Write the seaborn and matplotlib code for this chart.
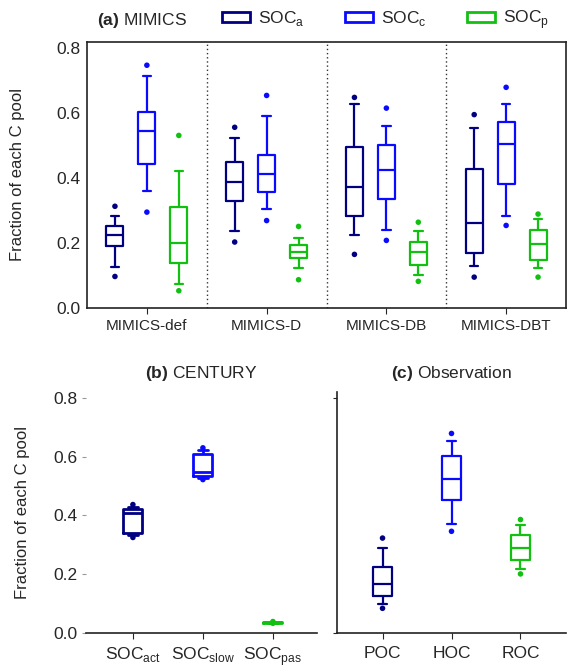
import matplotlib
matplotlib.use("Agg")
import pandas as pd
import matplotlib.pyplot as plt
from matplotlib.patches import Patch
import seaborn as sns

# each box: lower whisker, q1, median, q3, upper whisker (whis=(0, 100) on 5 values
# gives back exactly these), dots are the low / high outlier points
mimics_runs = ["MIMICS-def", "MIMICS-D", "MIMICS-DB", "MIMICS-DBT"]
mimics_pools = ["SOCa", "SOCc", "SOCp"]

soc_a_boxes = [[0.125, 0.192, 0.224, 0.253, 0.282],
               [0.238, 0.329, 0.388, 0.450, 0.523],
               [0.225, 0.282, 0.371, 0.496, 0.629],
               [0.130, 0.169, 0.261, 0.429, 0.553]]
soc_a_dots = [[0.097, 0.313], [0.203, 0.556], [0.165, 0.648], [0.095, 0.595]]

soc_c_boxes = [[0.359, 0.444, 0.545, 0.604, 0.713],
               [0.304, 0.357, 0.412, 0.471, 0.590],
               [0.241, 0.336, 0.425, 0.502, 0.560],
               [0.284, 0.382, 0.504, 0.573, 0.629]]
soc_c_dots = [[0.295, 0.747], [0.269, 0.654], [0.208, 0.615], [0.254, 0.679]]

soc_p_boxes = [[0.075, 0.137, 0.199, 0.311, 0.423],
               [0.124, 0.153, 0.172, 0.193, 0.214],
               [0.103, 0.131, 0.171, 0.203, 0.238],
               [0.122, 0.149, 0.197, 0.239, 0.275]]
soc_p_dots = [[0.053, 0.531], [0.087, 0.251], [0.082, 0.264], [0.095, 0.289]]

century_pools = ["SOCact", "SOCslow", "SOCpas"]
century_labels = [r"SOC$_\mathregular{act}$", r"SOC$_\mathregular{slow}$", r"SOC$_\mathregular{pas}$"]
century_boxes = [[0.335, 0.341, 0.409, 0.422, 0.430],
                 [0.527, 0.533, 0.547, 0.610, 0.622],
                 [0.034, 0.035, 0.036, 0.037, 0.038]]
century_dots = [[0.325, 0.437], [0.522, 0.630], [0.033, 0.039]]

obs_fractions = ["POC", "HOC", "ROC"]
obs_boxes = [[0.100, 0.125, 0.167, 0.226, 0.289],
             [0.371, 0.454, 0.523, 0.602, 0.654],
             [0.217, 0.247, 0.288, 0.335, 0.368]]
obs_dots = [[0.084, 0.323], [0.346, 0.679], [0.201, 0.386]]

colors = ["#000080", "#0a0aff", "#12c012"]
legend_labels = [r"SOC$_\mathregular{a}$", r"SOC$_\mathregular{c}$", r"SOC$_\mathregular{p}$"]


def long_table(groups, boxes, col):
    rows = []
    for g, vals in zip(groups, boxes):
        for v in vals:
            rows.append({col: g, "value": v})
    return pd.DataFrame(rows)


sns.set_style("ticks")
plt.rcParams["font.family"] = ["Liberation Sans", "DejaVu Sans"]
plt.rcParams["mathtext.fontset"] = "custom"
plt.rcParams["mathtext.rm"] = "Liberation Sans"
plt.rcParams["mathtext.bf"] = "Liberation Sans:bold"
plt.rcParams["axes.edgecolor"] = "#222222"
plt.rcParams["axes.linewidth"] = 1.2

W, H = 567, 671
fig = plt.figure(figsize=(W / 100, H / 100), dpi=100)
ax_a = fig.add_axes([87 / W, 1 - 308 / H, 479 / W, 266.5 / H])
ax_b = fig.add_axes([86 / W, 1 - 633 / H, 231 / W, 241 / H])
ax_c = fig.add_axes([337 / W, 1 - 633 / H, 229 / W, 241 / H])

# ---- (a) MIMICS
box_a = []
dot_a = []
for pool, bx, dt in zip(mimics_pools, [soc_a_boxes, soc_c_boxes, soc_p_boxes],
                        [soc_a_dots, soc_c_dots, soc_p_dots]):
    t = long_table(mimics_runs, bx, "run")
    t["pool"] = pool
    box_a.append(t)
    t = long_table(mimics_runs, dt, "run")
    t["pool"] = pool
    dot_a.append(t)
box_a = pd.concat(box_a, ignore_index=True)
dot_a = pd.concat(dot_a, ignore_index=True)

sns.boxplot(data=box_a, x="run", y="value", hue="pool", order=mimics_runs,
            hue_order=mimics_pools, palette=colors, whis=(0, 100), fill=False,
            width=0.8, gap=0.47, linewidth=1.6, showfliers=False, legend=False, ax=ax_a)
sns.stripplot(data=dot_a, x="run", y="value", hue="pool", order=mimics_runs,
              hue_order=mimics_pools, palette=colors, dodge=True, jitter=False,
              size=4, linewidth=0, legend=False, ax=ax_a)
for xs in [0.5, 1.5, 2.5]:
    ax_a.axvline(xs, color="#333333", lw=1, linestyle=(0, (1, 2)))
ax_a.set_xlim(-0.5, 3.5)
ax_a.set_ylim(0, 0.82)
ax_a.set_yticks([0, 0.2, 0.4, 0.6, 0.8])
ax_a.set_xlabel("")
ax_a.set_ylabel("Fraction of each C pool", fontsize=12, labelpad=22)
ax_a.tick_params(axis="y", length=0, labelsize=12.5, pad=5)
ax_a.tick_params(axis="x", length=4, labelsize=11, pad=4)

fig.text(97 / W, 1 - 20 / H, r"$\mathbf{(a)}$ MIMICS", ha="left", va="center", fontsize=12.5)
handles = [Patch(facecolor="white", edgecolor=c, linewidth=2) for c in colors]
fig.legend(handles, legend_labels, ncol=3, loc="center left", frameon=False,
           bbox_to_anchor=(222 / W, 1 - 20 / H), fontsize=12.5, handlelength=1.6,
           handleheight=0.5, handletextpad=0.5, columnspacing=2.3, borderaxespad=0,
           borderpad=0)

# ---- (b) CENTURY
box_b = long_table(century_pools, century_boxes, "pool")
dot_b = long_table(century_pools, century_dots, "pool")
sns.boxplot(data=box_b, x="pool", y="value", hue="pool", order=century_pools,
            hue_order=century_pools, palette=colors, whis=(0, 100), fill=False,
            width=0.27, linewidth=2, showfliers=False, legend=False, ax=ax_b)
sns.stripplot(data=dot_b, x="pool", y="value", hue="pool", order=century_pools,
              hue_order=century_pools, palette=colors, jitter=False, size=4,
              linewidth=0, legend=False, ax=ax_b)
ax_b.set_xlim(-0.67, 2.63)
ax_b.set_ylim(0, 0.82)
ax_b.set_yticks([0, 0.2, 0.4, 0.6, 0.8])
ax_b.set_xticks(range(3))
ax_b.set_xticklabels(century_labels)
ax_b.set_xlabel("")
ax_b.set_ylabel("Fraction of each C pool", fontsize=12, labelpad=17)
ax_b.set_title(r"$\mathbf{(b)}$ CENTURY", fontsize=12.5, pad=10)
ax_b.tick_params(axis="y", length=3, labelsize=12.5, pad=3, color="#999999")
ax_b.tick_params(axis="x", length=4, labelsize=12.5, pad=5)
for s in ["left", "top", "right"]:
    ax_b.spines[s].set_visible(False)

# ---- (c) Observation
box_c = long_table(obs_fractions, obs_boxes, "frac")
dot_c = long_table(obs_fractions, obs_dots, "frac")
sns.boxplot(data=box_c, x="frac", y="value", hue="frac", order=obs_fractions,
            hue_order=obs_fractions, palette=colors, whis=(0, 100), fill=False,
            width=0.27, linewidth=1.6, showfliers=False, legend=False, ax=ax_c)
sns.stripplot(data=dot_c, x="frac", y="value", hue="frac", order=obs_fractions,
              hue_order=obs_fractions, palette=colors, jitter=False, size=4,
              linewidth=0, legend=False, ax=ax_c)
ax_c.set_xlim(-0.66, 2.66)
ax_c.set_ylim(0, 0.82)
ax_c.set_yticks([0, 0.8])
ax_c.set_yticklabels([])
ax_c.set_xlabel("")
ax_c.set_ylabel("")
ax_c.set_title(r"$\mathbf{(c)}$ Observation", fontsize=12.5, pad=10)
ax_c.tick_params(axis="y", length=3)
ax_c.tick_params(axis="x", length=4, labelsize=12.5, pad=5)
for s in ["top", "right"]:
    ax_c.spines[s].set_visible(False)

fig.savefig("out.png", dpi=100)
